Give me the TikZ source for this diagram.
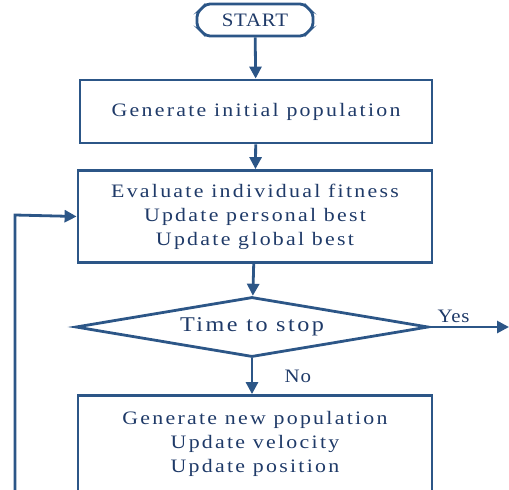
\documentclass[tikz,border=0pt]{standalone}
\usepackage{fontspec}
\setmainfont[LetterSpace=12,FakeStretch=1.15]{Liberation Serif}
\newfontfamily\tightserif[LetterSpace=4,FakeStretch=1.1]{Liberation Serif}
\usetikzlibrary{shapes.geometric,shapes.misc,arrows.meta}
\definecolor{lineblue}{HTML}{2C5687}
\definecolor{textblue}{HTML}{1F3A68}
\tikzset{
  flowbox/.style={draw=lineblue,line width=2.8pt,rectangle,inner sep=0pt,
    text=textblue,align=center,font=\fontsize{19}{24}\selectfont},
  flowarrow/.style={draw=lineblue,line width=2.8pt,-{Triangle[length=12pt,width=12pt]}},
  flowlabel/.style={text=textblue,font=\tightserif\fontsize{19}{22}\selectfont},
}
\begin{document}
\begin{tikzpicture}[x=1pt,y=-1pt]
\useasboundingbox (0,0) rectangle (509,490);
\node[flowbox,chamfered rectangle,chamfered rectangle xsep=6pt,rounded corners=4pt,
  minimum width=116pt,minimum height=32pt,font=\tightserif\fontsize{19}{22}\selectfont] (start) at (255,20) {START};
\node[flowbox,minimum width=352pt,minimum height=63pt] (init) at (256,111.5) {Generate initial population};
\node[flowbox,minimum width=354pt,minimum height=92pt] (eval) at (255,216.5)
  {Evaluate individual fitness\\Update personal best\\Update global best};
\node[draw=lineblue,line width=2.8pt,diamond,aspect=5.9,inner sep=0pt,
  minimum width=353pt,minimum height=60pt,text=textblue,font=\fontsize{21}{24}\selectfont] (dec) at (252,327) {Time to stop};
\node[flowbox,minimum width=354pt,minimum height=96pt] (gen) at (255,443.5)
  {Generate new population\\Update velocity\\Update position};
\coordinate (yesend) at (509,327);
\coordinate (loopbot) at (15,491);
\coordinate (looptop) at (15,215);
\draw[flowarrow] (start) -- (init);
\draw[flowarrow] (init) -- (eval);
\draw[flowarrow] (eval) -- (dec);
\draw[flowarrow] (dec.south) -- (dec.south |- gen.north) node[flowlabel,midway,right=28pt] {No};
\draw[flowarrow] (dec.east) -- (yesend) node[flowlabel,pos=0.3,above=0pt] {Yes};
\draw[flowarrow] (loopbot) -- (looptop) -- (eval.west);
\end{tikzpicture}
\end{document}
